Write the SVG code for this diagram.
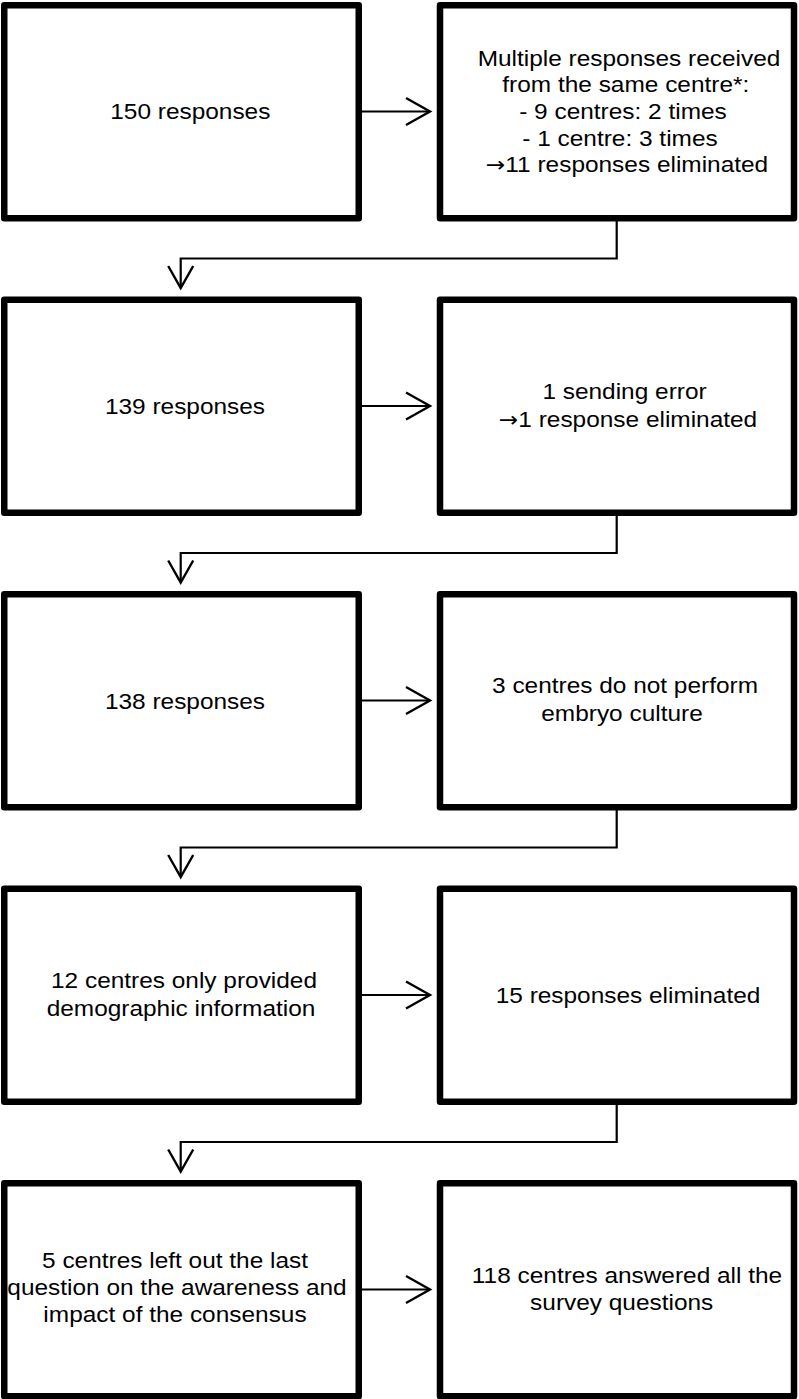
<svg xmlns="http://www.w3.org/2000/svg" width="799" height="1399" viewBox="0 0 799 1399">
<style>
.box{fill:#fff;stroke:#000;stroke-width:6.5;stroke-linejoin:round}
.ln{fill:none;stroke:#000;stroke-width:2.2;stroke-linejoin:miter}
.hd{fill:none;stroke:#000;stroke-width:2.4;stroke-linejoin:miter;stroke-linecap:butt}
.t{font-family:"Liberation Sans",Arial,Helvetica,sans-serif;font-size:22px;fill:#000;text-anchor:middle}
.ar{font-family:"DejaVu Sans",sans-serif;font-size:21px}
</style>
<rect width="799" height="1399" fill="#fff"/>
<g id="connectors">
  <path class="ln" d="M362 111.5H429"/><path class="hd" d="M406 98L430 111.5L406 125"/>
  <path class="ln" d="M362 406H429"/><path class="hd" d="M406 392.5L430 406L406 419.5"/>
  <path class="ln" d="M362 700.5H429"/><path class="hd" d="M406 687L430 700.5L406 714"/>
  <path class="ln" d="M362 995H429"/><path class="hd" d="M406 981.5L430 995L406 1008.5"/>
  <path class="ln" d="M362 1289.5H429"/><path class="hd" d="M406 1276L430 1289.5L406 1303"/>
  <path class="ln" d="M616.7 221V258.5H180.7V287"/><path class="hd" d="M168.2 266L180.7 288L193.2 266"/>
  <path class="ln" d="M616.7 515.5V553H180.7V581.5"/><path class="hd" d="M168.2 560.5L180.7 582.5L193.2 560.5"/>
  <path class="ln" d="M616.7 810V847.5H180.7V876"/><path class="hd" d="M168.2 855L180.7 877L193.2 855"/>
  <path class="ln" d="M616.7 1104.5V1142H180.7V1170.5"/><path class="hd" d="M168.2 1149.5L180.7 1171.5L193.2 1149.5"/>
</g>
<g id="n1">
  <rect class="box" x="4.25" y="5.25" width="354.5" height="213"/>
  <text class="t" transform="translate(190.3 119) scale(1.11 1)">150 responses</text>
</g>
<g id="n2">
  <rect class="box" x="440" y="5.25" width="354" height="213"/>
  <text class="t" transform="translate(629 65.5) scale(1.11 1)">Multiple responses received</text>
  <text class="t" transform="translate(625.8 92.2) scale(1.11 1)">from the same centre*:</text>
  <text class="t" transform="translate(623 118.9) scale(1.11 1)">- 9 centres: 2 times</text>
  <text class="t" transform="translate(620 145.6) scale(1.11 1)">- 1 centre: 3 times</text>
  <text class="t" transform="translate(627 172.3) scale(1.11 1)"><tspan class="ar">→</tspan>11 responses eliminated</text>
</g>
<g id="n3">
  <rect class="box" x="4.25" y="299.75" width="354.5" height="213"/>
  <text class="t" transform="translate(185 414) scale(1.11 1)">139 responses</text>
</g>
<g id="n4">
  <rect class="box" x="440" y="299.75" width="354" height="213"/>
  <text class="t" transform="translate(624.5 398.5) scale(1.11 1)">1 sending error</text>
  <text class="t" transform="translate(628 426.5) scale(1.11 1)"><tspan class="ar">→</tspan>1 response eliminated</text>
</g>
<g id="n5">
  <rect class="box" x="4.25" y="594.25" width="354.5" height="213"/>
  <text class="t" transform="translate(185 708.5) scale(1.11 1)">138 responses</text>
</g>
<g id="n6">
  <rect class="box" x="440" y="594.25" width="354" height="213"/>
  <text class="t" transform="translate(625 693.3) scale(1.11 1)">3 centres do not perform</text>
  <text class="t" transform="translate(622 721) scale(1.11 1)">embryo culture</text>
</g>
<g id="n7">
  <rect class="box" x="4.25" y="888.75" width="354.5" height="213"/>
  <text class="t" transform="translate(184 987.5) scale(1.11 1)">12 centres only provided</text>
  <text class="t" transform="translate(181 1015.5) scale(1.11 1)">demographic information</text>
</g>
<g id="n8">
  <rect class="box" x="440" y="888.75" width="354" height="213"/>
  <text class="t" transform="translate(628 1003) scale(1.11 1)">15 responses eliminated</text>
</g>
<g id="n9">
  <rect class="box" x="4.25" y="1183.25" width="354.5" height="213"/>
  <text class="t" transform="translate(175 1268.3) scale(1.11 1)">5 centres left out the last</text>
  <text class="t" transform="translate(177 1295) scale(1.11 1)">question on the awareness and</text>
  <text class="t" transform="translate(175 1321.7) scale(1.11 1)">impact of the consensus</text>
</g>
<g id="n10">
  <rect class="box" x="440" y="1183.25" width="354" height="213"/>
  <text class="t" transform="translate(627 1283) scale(1.11 1)">118 centres answered all the</text>
  <text class="t" transform="translate(621.7 1309.7) scale(1.11 1)">survey questions</text>
</g>
</svg>
